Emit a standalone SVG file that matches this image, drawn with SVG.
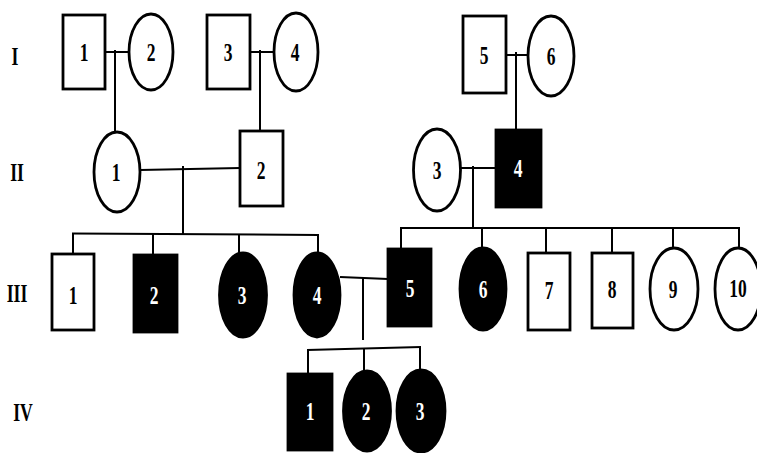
<svg xmlns="http://www.w3.org/2000/svg" width="757" height="453" viewBox="0 0 757 453">
  <style>
    .open { fill: #ffffff; stroke: #000000; stroke-width: 2.8; }
    .aff { fill: #000000; stroke: #000000; stroke-width: 2.8; }
    .ln { fill: none; stroke: #000000; stroke-width: 2; }
    .num { font-family: "Liberation Serif", "Times New Roman", serif; font-weight: bold; font-size: 25px; text-anchor: middle; fill: #000000; }
    .aff-num { fill: #ffffff; }
    .gen { font-family: "Liberation Serif", "Times New Roman", serif; font-weight: bold; font-size: 26px; text-anchor: middle; fill: #000000; }
  </style>
  <rect width="757" height="453" fill="#ffffff"/>

  <!-- generation labels -->
  <g id="generations">
    <text class="gen" transform="translate(15,65) scale(0.68,1)">I</text>
    <text class="gen" transform="translate(17,181) scale(0.68,1)">II</text>
    <text class="gen" transform="translate(17,302) scale(0.68,1)">III</text>
    <text class="gen" transform="translate(23,421) scale(0.68,1)">IV</text>
  </g>

  <!-- marriage, descent and sibship lines -->
  <g id="connectors">
    <!-- I-1 x I-2 -->
    <line class="ln" x1="105" y1="52" x2="129" y2="52"/>
    <line class="ln" x1="115" y1="50" x2="115" y2="132"/>
    <!-- I-3 x I-4 -->
    <line class="ln" x1="250" y1="52" x2="274" y2="52"/>
    <line class="ln" x1="260" y1="50" x2="260" y2="131"/>
    <!-- I-5 x I-6 -->
    <line class="ln" x1="506" y1="55" x2="528" y2="55"/>
    <line class="ln" x1="516" y1="52" x2="516" y2="130"/>
    <!-- II-1 x II-2 -->
    <line class="ln" x1="140" y1="170" x2="240" y2="168" stroke-width="2.4"/>
    <line class="ln" x1="183" y1="166" x2="183" y2="234"/>
    <!-- sibship III-1..III-4 -->
    <line class="ln" x1="72" y1="233.5" x2="319" y2="235"/>
    <line class="ln" x1="73" y1="233.5" x2="73" y2="254"/>
    <line class="ln" x1="153" y1="234" x2="153" y2="255"/>
    <line class="ln" x1="239" y1="234.5" x2="239" y2="254"/>
    <line class="ln" x1="318" y1="235" x2="318" y2="254"/>
    <!-- II-3 x II-4 -->
    <line class="ln" x1="461" y1="168" x2="496" y2="168"/>
    <line class="ln" x1="473" y1="166" x2="473" y2="228"/>
    <!-- sibship III-5..III-10 -->
    <line class="ln" x1="400" y1="228" x2="740" y2="228"/>
    <line class="ln" x1="401" y1="228" x2="401" y2="249"/>
    <line class="ln" x1="482" y1="228" x2="482" y2="248"/>
    <line class="ln" x1="546" y1="228" x2="546" y2="253"/>
    <line class="ln" x1="612" y1="228" x2="612" y2="253"/>
    <line class="ln" x1="673" y1="228" x2="673" y2="248"/>
    <line class="ln" x1="739" y1="228" x2="739" y2="248"/>
    <!-- III-4 x III-5 -->
    <line class="ln" x1="340" y1="277" x2="388" y2="279"/>
    <line class="ln" x1="363" y1="278" x2="363" y2="340"/>
    <!-- sibship IV-1..IV-3 -->
    <line class="ln" x1="307" y1="350" x2="421" y2="347"/>
    <line class="ln" x1="308" y1="350" x2="308" y2="374"/>
    <line class="ln" x1="364" y1="348.5" x2="364" y2="372"/>
    <line class="ln" x1="420" y1="347" x2="420" y2="371"/>
  </g>

  <!-- generation I -->
  <g id="I-1"><rect class="open" x="63" y="15" width="42" height="74"/><text class="num" transform="translate(84,61) scale(0.7,1)">1</text></g>
  <g id="I-2"><ellipse class="open" cx="151" cy="52" rx="22" ry="38"/><text class="num" transform="translate(151,61) scale(0.7,1)">2</text></g>
  <g id="I-3"><rect class="open" x="207" y="15" width="43" height="74"/><text class="num" transform="translate(228,61) scale(0.7,1)">3</text></g>
  <g id="I-4"><ellipse class="open" cx="296" cy="52" rx="22" ry="39"/><text class="num" transform="translate(295,61) scale(0.7,1)">4</text></g>
  <g id="I-5"><rect class="open" x="463" y="16" width="43" height="77"/><text class="num" transform="translate(484,64) scale(0.7,1)">5</text></g>
  <g id="I-6"><ellipse class="open" cx="551" cy="56" rx="23" ry="40"/><text class="num" transform="translate(551,65) scale(0.7,1)">6</text></g>

  <!-- generation II -->
  <g id="II-1"><ellipse class="open" cx="117" cy="172" rx="23" ry="40"/><text class="num" transform="translate(116,181) scale(0.7,1)">1</text></g>
  <g id="II-2"><rect class="open" x="240" y="131" width="43" height="75"/><text class="num" transform="translate(261,179) scale(0.7,1)">2</text></g>
  <g id="II-3"><ellipse class="open" cx="437" cy="170" rx="23.5" ry="41"/><text class="num" transform="translate(437,179) scale(0.7,1)">3</text></g>
  <g id="II-4"><rect class="aff" x="496" y="130" width="45" height="77"/><text class="num aff-num" transform="translate(518,177) scale(0.7,1)">4</text></g>

  <!-- generation III -->
  <g id="III-1"><rect class="open" x="52" y="254" width="42" height="76"/><text class="num" transform="translate(73,304) scale(0.7,1)">1</text></g>
  <g id="III-2"><rect class="aff" x="134" y="255" width="43" height="77"/><text class="num aff-num" transform="translate(154,304) scale(0.7,1)">2</text></g>
  <g id="III-3"><ellipse class="aff" cx="243" cy="295" rx="23.5" ry="42"/><text class="num aff-num" transform="translate(242,304) scale(0.7,1)">3</text></g>
  <g id="III-4"><ellipse class="aff" cx="317" cy="295" rx="23" ry="42"/><text class="num aff-num" transform="translate(317,304) scale(0.7,1)">4</text></g>
  <g id="III-5"><rect class="aff" x="388" y="249" width="43" height="77"/><text class="num aff-num" transform="translate(410,297) scale(0.7,1)">5</text></g>
  <g id="III-6"><ellipse class="aff" cx="483" cy="289" rx="23" ry="41"/><text class="num aff-num" transform="translate(483,298) scale(0.7,1)">6</text></g>
  <g id="III-7"><rect class="open" x="528" y="253" width="42" height="77"/><text class="num" transform="translate(549,299) scale(0.7,1)">7</text></g>
  <g id="III-8"><rect class="open" x="592" y="253" width="41" height="75"/><text class="num" transform="translate(612,298) scale(0.7,1)">8</text></g>
  <g id="III-9"><ellipse class="open" cx="674" cy="289" rx="24" ry="41"/><text class="num" transform="translate(673,298) scale(0.7,1)">9</text></g>
  <g id="III-10"><ellipse class="open" cx="738" cy="289" rx="23" ry="41"/><text class="num" transform="translate(738,297) scale(0.7,1)">10</text></g>

  <!-- generation IV -->
  <g id="IV-1"><rect class="aff" x="288" y="374" width="44" height="76"/><text class="num aff-num" transform="translate(310,420) scale(0.7,1)">1</text></g>
  <g id="IV-2"><ellipse class="aff" cx="367" cy="411" rx="23.5" ry="40"/><text class="num aff-num" transform="translate(366,420) scale(0.7,1)">2</text></g>
  <g id="IV-3"><ellipse class="aff" cx="421" cy="411" rx="24" ry="41"/><text class="num aff-num" transform="translate(420,420) scale(0.7,1)">3</text></g>
</svg>
